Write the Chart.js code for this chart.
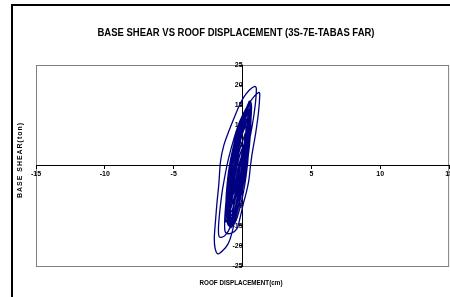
<!DOCTYPE html>
<html>
<head>
<meta charset="utf-8">
<script src="https://cdn.jsdelivr.net/npm/chart.js@4"></script>
<style>
  html, body { margin: 0; padding: 0; background: #fff; overflow: hidden; }
  #wrap { position: relative; width: 450px; height: 297px; overflow: hidden; }
</style>
</head>
<body>
<div id="wrap"><canvas id="hysteresisChart" width="454" height="297"></canvas></div>
<script>
// Roof displacement (cm)
const roofDisp = [
  -0.3, 0.0, 0.2, 0.1, -0.2, -0.45, -0.6,
  -0.65, -0.55, -0.3, 0.1, 0.4,
  0.3, 0.0, -0.3, -0.6, -0.9,
  -1.0, -0.9, -0.7, -0.35, 0.1, 0.6,
  0.55, 0.3, 0.0, -0.3, -0.7, -1.2,
  -1.25, -1.05, -0.75, -0.4, 0.0, 0.3, 0.5,
  0.55, 0.45, 0.2, -0.1, -0.3, -0.5, -0.75, -1.05, -1.45, -1.8,
  -2.0, -2.05, -1.97, -1.85, -1.72, -1.6, -1.36, -1.0, -0.63, -0.25, 0.07, 0.5, 0.9,
  1.0, 0.95, 0.8, 0.6, 0.35, 0.1, -0.2, -0.5, -0.85, -1.3, -1.67,
  -1.75, -1.7, -1.5, -1.25, -1.0, -0.6, -0.2, 0.3, 0.8, 1.2,
  1.25, 1.15, 0.95, 0.7, 0.58, 0.45, 0.25, 0.07, -0.2, -0.4, -0.8, -1.2,
  -1.3, -1.25, -1.05, -0.8, -0.45, -0.05, 0.3, 0.55,
  0.65, 0.6, 0.45, 0.25, 0.0, -0.3, -0.55, -0.8,
  -1.05, -1.15, -1.05, -0.85, -0.55, -0.15, 0.2, 0.45,
  0.55, 0.5, 0.35, 0.15, -0.1, -0.4, -0.7, -1.0,
  -1.15, -1.15, -1.0, -0.75, -0.45, -0.05, 0.35,
  0.45, 0.4, 0.25, 0.05, -0.2, -0.5, -0.85,
  -1.0, -1.0, -0.85, -0.6, -0.3, 0.1, 0.4,
  0.45, 0.35, 0.15, -0.1, -0.35, -0.65, -0.9,
  -1.05, -1.05, -0.9, -0.65, -0.35, 0.0, 0.3,
  0.35, 0.25, 0.05, -0.2, -0.5, -0.8,
  -0.95, -0.9, -0.7, -0.45, -0.1, 0.25, 0.35,
  0.4, 0.3, 0.1, -0.15, -0.45, -0.7, -0.95,
  -1.05, -1.1, -0.95, -0.75, -0.45, -0.1, 0.2,
  0.25, 0.2, 0.05, -0.2, -0.45, -0.75, -0.95,
  -1.1, -1.2, -1.1, -0.95, -0.65, -0.25, 0.15, 0.4,
  0.5, 0.5, 0.4, 0.3, 0.1, -0.2, -0.5, -0.85,
  -1.0, -1.1, -1.0, -0.9, -0.6, -0.2, 0.2, 0.5,
  0.55, 0.55, 0.45, 0.35, 0.15, -0.15, -0.45, -0.75,
  -0.9, -0.95, -0.85, -0.7, -0.45, -0.1, 0.25, 0.45,
  0.45, 0.4, 0.3, 0.2, 0.0, -0.25, -0.5, -0.8,
  -0.95, -1.0, -0.95, -0.8, -0.55, -0.2, 0.1, 0.35,
  0.4, 0.35, 0.25, 0.1, -0.1, -0.35, -0.6, -0.9,
  -1.0, -1.0, -0.9, -0.75, -0.5, -0.15, 0.2, 0.5,
  0.6, 0.6, 0.5, 0.35, 0.15, -0.1, -0.4, -0.7,
  -0.85, -0.9, -0.8, -0.6, -0.35, 0.0, 0.3, 0.5,
  0.5, 0.45, 0.3, 0.15, -0.05, -0.3, -0.6, -0.9,
  -0.85, -0.75, -0.55, -0.3, 0.0, 0.25,
  0.2, 0.0, -0.2, -0.45, -0.7,
  -0.75, -0.65, -0.45, -0.2, 0.1, 0.2,
  0.1, -0.1, -0.35, -0.55, -0.65,
  -0.6, -0.45, -0.25, 0.0, 0.05,
  -0.1, -0.3, -0.45, -0.5,
  -0.35, -0.25
]

// Base shear (ton), same order
const baseShear = [
  0, 3, 5, 3, 0, -3, -5,
  -4, -1, 3, 7, 9,
  6, 2, -2, -6, -10,
  -9, -5, 0, 5, 10, 13,
  10, 5, 0, -4, -9, -14,
  -11, -5, 0, 5, 10, 14, 16,
  13, 8, 3, -2, -7, -12, -16.5, -19.5, -21.2, -22,
  -20.5, -18, -14, -9, -4.5, 1, 5, 8.5, 11.7, 14.8, 16.9, 18.8, 19.7,
  19.2, 16, 12, 8, 4, 0, -5, -10, -15, -17.5, -17.8,
  -16.5, -13, -7, -2, 2, 7, 11, 14.5, 17, 18.2,
  17.5, 13, 8, 3, 0, -3.8, -7, -9.3, -13.3, -15.7, -16.8, -16.8,
  -15.5, -11, -5, 0, 5, 10, 14, 16,
  15, 11, 6, 2, -3, -8, -12, -15.2,
  -14, -10, -5, 0, 5, 10, 13.5, 15.5,
  14, 10, 5, 1, -4, -9, -13, -15,
  -13, -8, -3, 2, 7, 11, 14,
  12, 8, 3, -1, -6, -10, -13.5,
  -12, -7, -2, 3, 8, 11.5, 13,
  11, 7, 2, -3, -8, -12, -14.5,
  -13, -8, -3, 2, 6, 9.5, 11,
  9, 5, 1, -4, -8, -11.5,
  -10, -5, 0, 4, 9, 12.5, 13.5,
  12, 7, 2, -3, -9, -13, -14,
  -12, -8, -4, 0, 5, 10, 12,
  10, 6, 2, -3, -7, -12, -13,
  -14, -9, -4, 0, 5, 10, 13, 14.5,
  13, 9, 4, 0, -4, -9, -13, -15.5,
  -14.5, -10, -5, -1, 4, 9, 12.5, 14,
  12, 8, 4, 0, -5, -10, -13.5, -15,
  -14, -10, -5, 0, 4, 9, 12, 13,
  11, 7, 3, 0, -4, -9, -12.5, -14.5,
  -13, -9, -4, 0, 5, 9, 11.5, 12.5,
  11, 7, 3, -1, -5, -9, -12, -13.5,
  -12, -7, -3, 1, 5, 10, 13, 15,
  14, 10, 5, 1, -3, -7, -11, -14,
  -13, -9, -4, 0, 4, 8, 11, 12,
  10, 6, 2, -2, -6, -10, -13, -14,
  -10, -5, 0, 4, 8, 10,
  7, 3, -1, -6, -9.5,
  -8, -4, 0, 4, 7, 8,
  5, 1, -3, -6, -7,
  -4, -1, 2, 4.5, 5,
  2, -1, -3, -4,
  -1, 0
]

const xTicks = [-15, -10, -5, 0, 5, 10, 15]
const yTicks = [-25, -20, -15, -10, -5, 0, 5, 10, 15, 20, 25]

const chartTitle = 'BASE SHEAR VS ROOF DISPLACEMENT (3S-7E-TABAS FAR)'
const xTitle = 'ROOF DISPLACEMENT(cm)'
const yTitle = 'BASE SHEAR(ton)'

const points = roofDisp.map((x, i) => ({ x: x, y: baseShear[i] }))

const narrow = '"Liberation Sans Narrow", "Liberation Sans", Arial, sans-serif'
const tickFont = { family: narrow, size: 7, weight: 'bold' }

// text squeezed or stretched to a given width, like the Excel export
function drawFitted(ctx, text, cx, cy, width, font, rotate) {
  ctx.save()
  ctx.font = font
  const w = ctx.measureText(text).width
  ctx.translate(cx, cy)
  if (rotate) ctx.rotate(-Math.PI / 2)
  ctx.scale(width / w, 1)
  ctx.textAlign = 'center'
  ctx.textBaseline = 'middle'
  ctx.fillStyle = '#000'
  ctx.fillText(text, 0, 0)
  ctx.restore()
}

const framePlugin = {
  id: 'frame',
  beforeDraw(chart) {
    const { ctx, chartArea: a } = chart
    ctx.save()
    // outer chart frame (cut off on the right and bottom)
    ctx.strokeStyle = '#000'
    ctx.lineWidth = 2
    ctx.beginPath()
    ctx.moveTo(12, 297)
    ctx.lineTo(12, 5)
    ctx.lineTo(454, 5)
    ctx.stroke()
    // plot area box
    ctx.strokeStyle = '#808080'
    ctx.lineWidth = 1
    ctx.strokeRect(a.left + 0.5, a.top + 0.5, a.right - a.left - 1, a.bottom - a.top)
    ctx.restore()
  },
  afterDraw(chart) {
    const { ctx } = chart
    drawFitted(ctx, chartTitle, 236, 33, 277, 'bold 10px ' + narrow)
    drawFitted(ctx, xTitle, 241, 283, 83, 'bold 7.5px ' + narrow)
    ctx.save()
    ctx.letterSpacing = '1px'
    drawFitted(ctx, yTitle, 20, 160, 76, 'bold 7px ' + narrow, true)
    ctx.restore()
  }
}

const ctx = document.getElementById('hysteresisChart').getContext('2d')
new Chart(ctx, {
  type: 'scatter',
  data: {
    datasets: [{
      label: 'Base shear',
      data: points,
      showLine: true,
      borderColor: '#000080',
      borderWidth: 1.3,
      pointRadius: 0,
      tension: 0.3,
      fill: false
    }]
  },
  options: {
    responsive: false,
    animation: false,
    layout: { padding: { left: 36, right: 0, top: 65, bottom: 31 } },
    plugins: {
      legend: { display: false },
      title: { display: false },
      tooltip: { enabled: false }
    },
    scales: {
      x: {
        type: 'linear',
        min: -15,
        max: 15,
        position: { y: 0 },
        afterBuildTicks: (axis) => { axis.ticks = xTicks.map(v => ({ value: v })) },
        ticks: { autoSkip: false, maxRotation: 0, color: '#000', font: tickFont, padding: 1 },
        grid: { drawOnChartArea: false, drawTicks: true, tickLength: 3, color: '#000' },
        border: { color: '#000', width: 1 }
      },
      y: {
        type: 'linear',
        min: -25,
        max: 25,
        position: { x: 0 },
        afterBuildTicks: (axis) => { axis.ticks = yTicks.map(v => ({ value: v })) },
        ticks: { autoSkip: false, color: '#000', font: tickFont, padding: 1 },
        grid: { drawOnChartArea: false, drawTicks: true, tickLength: 3, color: '#000' },
        border: { color: '#000', width: 1 }
      }
    }
  },
  plugins: [framePlugin]
})
</script>
</body>
</html>
